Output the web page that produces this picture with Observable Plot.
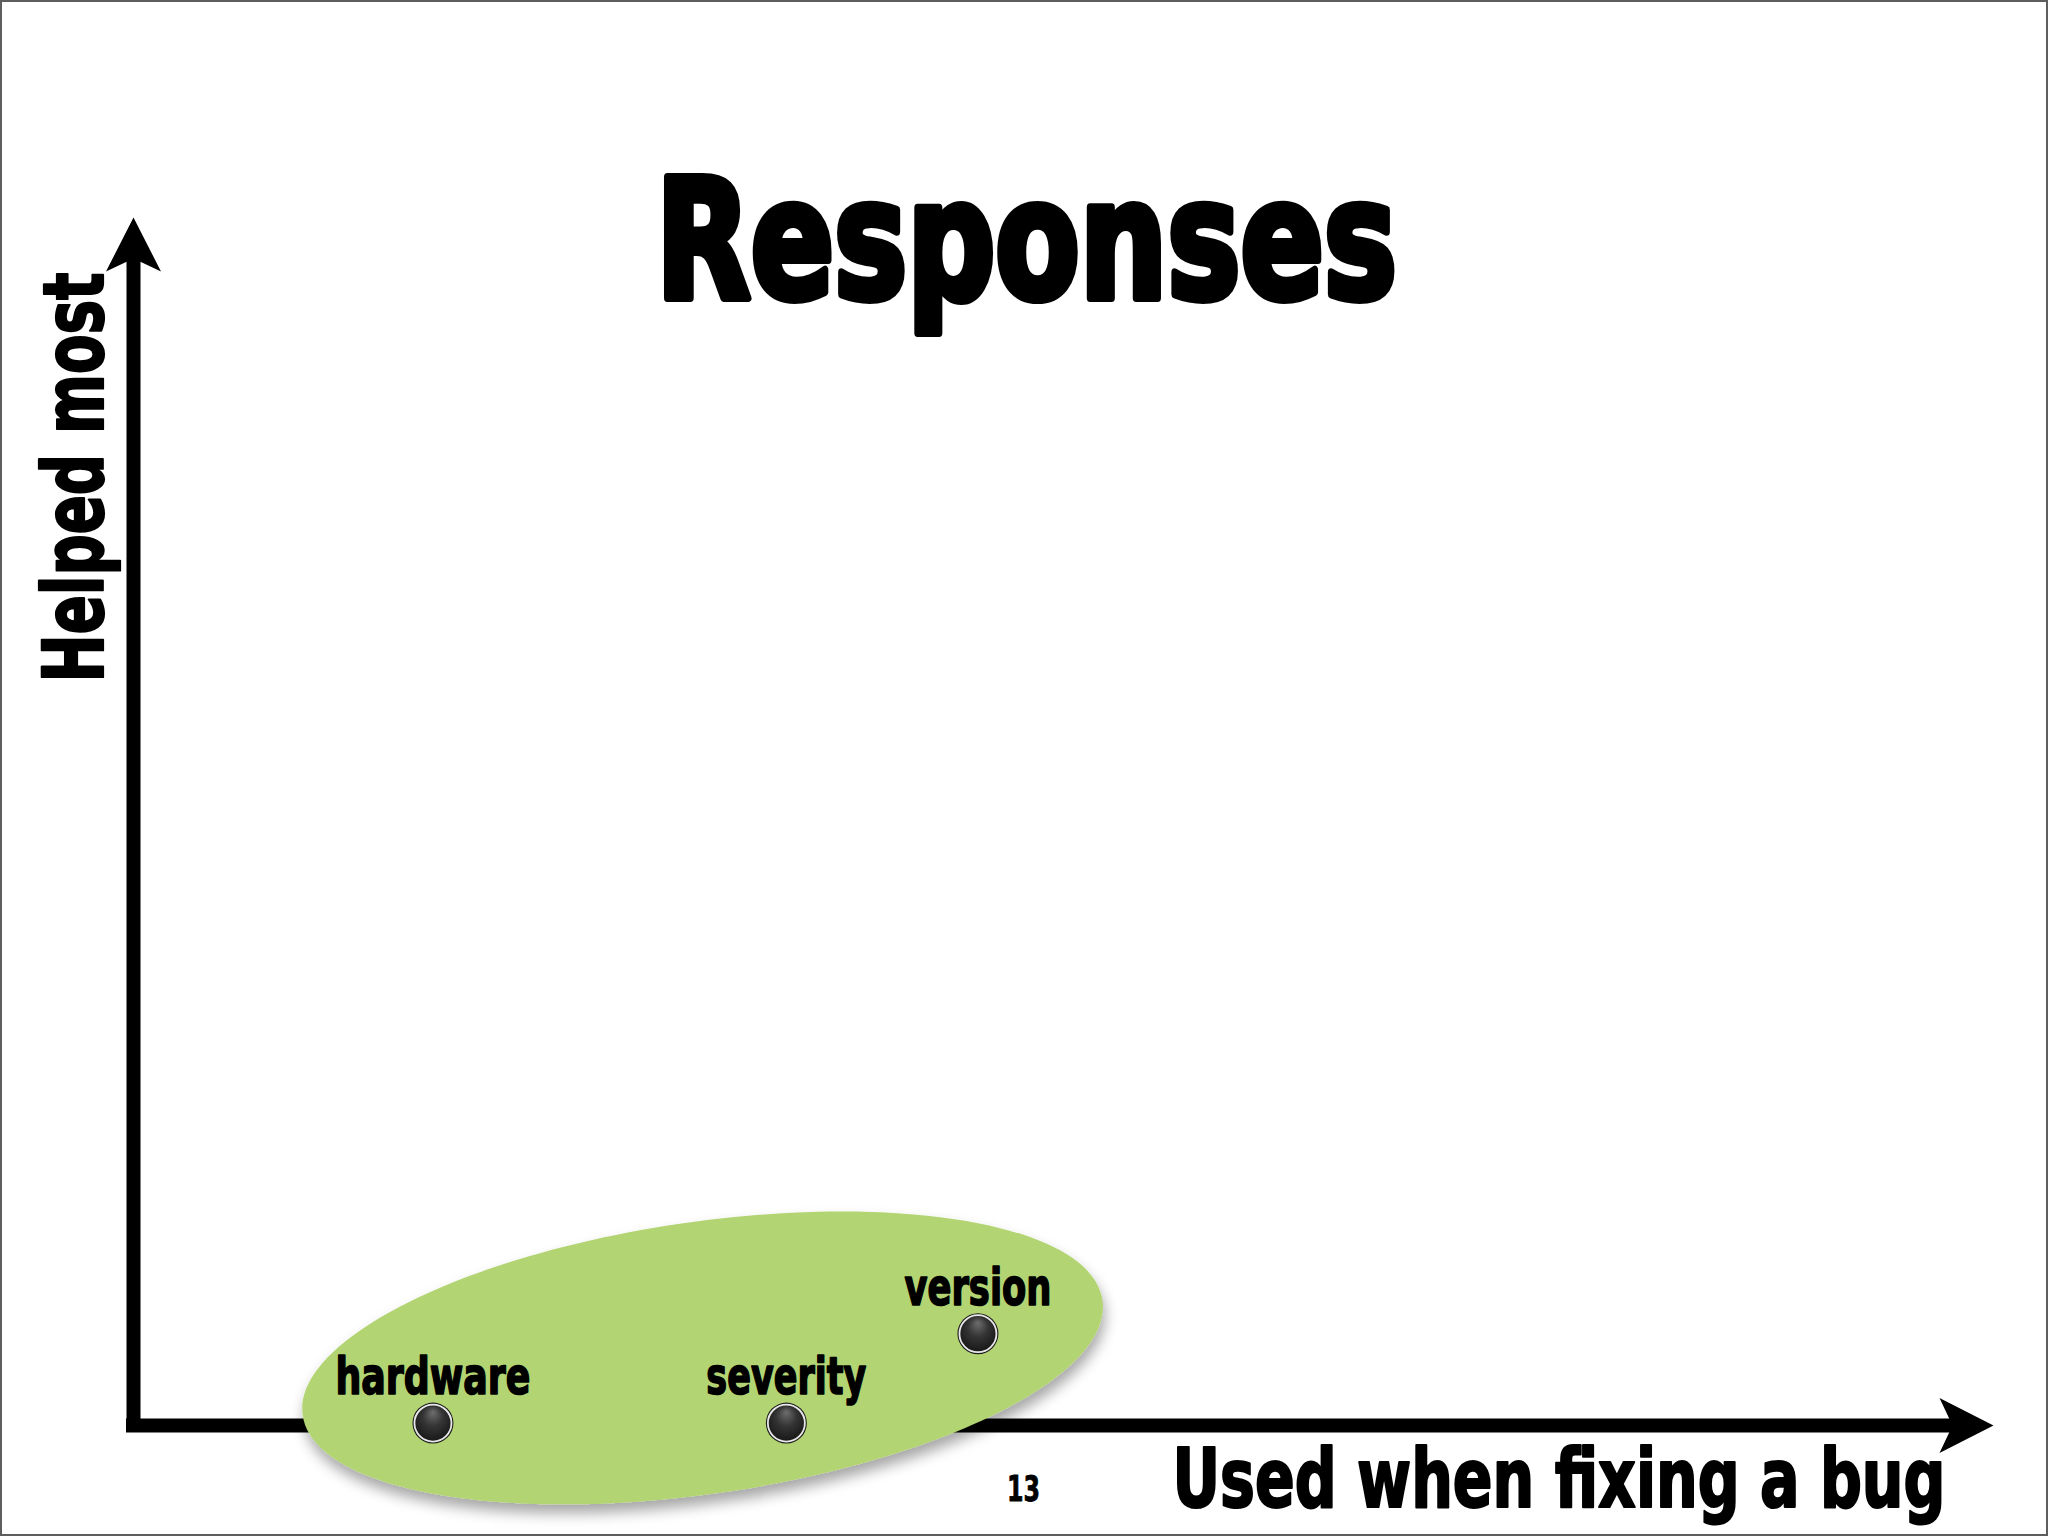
<!DOCTYPE html>
<html>
<head>
<meta charset="utf-8">
<script src="https://cdn.jsdelivr.net/npm/d3@7"></script>
<script src="https://cdn.jsdelivr.net/npm/@observablehq/plot@0.6"></script>
<style>
  html, body { margin: 0; padding: 0; background: #ffffff; }
  #chart svg { display: block; outline: 2px solid #5e5e5e; outline-offset: -2px; }
</style>
</head>
<body>
<div id="chart"></div>
<script>
// ---- data ----
const categories = ["hardware", "severity", "version"];
const usedWhenFixing = [16.1, 35.1, 45.4];   // x: "Used when fixing a bug"
const helpedMost = [0.2, 0.2, 7.6];          // y: "Helped most"
const clusterX = [30.6];                     // highlighted group (ellipse) centre
const clusterY = [5.6];
const xDomain = [0, 100];
const yDomain = [0, 100];
const chartTitle = "Responses";
const xLabel = "Used when fixing a bug";
const yLabel = "Helped most";
const pageNumber = "13";

// ---- tables built from the arrays ----
const points = categories.map((name, i) => ({name, x: usedWhenFixing[i], y: helpedMost[i]}));
const cluster = clusterX.map((x, i) => ({x, y: clusterY[i]}));
const axisTips = [
  {x: xDomain[1], y: yDomain[0], angle: 0},
  {x: xDomain[0], y: yDomain[1], angle: -90}
];

// ---- styling ----
const FONT = "'Liberation Sans Narrow', 'DejaVu Sans Condensed', 'Liberation Sans', Arial, sans-serif";
const GREEN = "#b3d472";

const ellipseSymbol = (rx, ry) => ({
  draw(ctx) {
    const k = 0.5522847498;
    ctx.moveTo(rx, 0);
    ctx.bezierCurveTo(rx, k * ry, k * rx, ry, 0, ry);
    ctx.bezierCurveTo(-k * rx, ry, -rx, k * ry, -rx, 0);
    ctx.bezierCurveTo(-rx, -k * ry, -k * rx, -ry, 0, -ry);
    ctx.bezierCurveTo(k * rx, -ry, rx, -k * ry, rx, 0);
    ctx.closePath();
  }
});

const arrowHead = {
  draw(ctx) {
    ctx.moveTo(0, 0);
    ctx.lineTo(-54, -27.5);
    ctx.lineTo(-41, 0);
    ctx.lineTo(-54, 27.5);
    ctx.closePath();
  }
};

const chart = Plot.plot({
  width: 2048,
  height: 1536,
  marginLeft: 133,
  marginRight: 55,
  marginTop: 217,
  marginBottom: 111,
  x: {domain: xDomain, axis: null},
  y: {domain: yDomain, axis: null},
  marks: [
    // axes
    Plot.ruleY([yDomain[0]], {x1: xDomain[0], x2: xDomain[1], stroke: "black", strokeWidth: 14, insetLeft: -7, insetRight: 36}),
    Plot.ruleX([xDomain[0]], {y1: yDomain[1], y2: yDomain[0], stroke: "black", strokeWidth: 14, insetTop: 36, insetBottom: -7}),
    Plot.dot(axisTips, {x: "x", y: "y", rotate: "angle", symbol: arrowHead, fill: "black", stroke: "none"}),
    // highlighted cluster (drawn over the axis, as in the slide)
    Plot.dot(cluster, {x: "x", y: "y", symbol: ellipseSymbol(404, 136), rotate: -8.2, fill: GREEN, stroke: "none"}),
    // data points
    Plot.dot(points, {x: "x", y: "y", r: 20.5, fill: "#1c1c1c", stroke: "none"}),
    Plot.dot(points, {x: "x", y: "y", r: 18.5, fill: "url(#ballGrad)", stroke: "#e8e8e8", strokeWidth: 1.8}),
    Plot.text(points, {x: "x", y: "y", text: "name", dy: -29, lineAnchor: "bottom", textAnchor: "middle",
      fontFamily: FONT, fontWeight: "bold", fontSize: 52, fill: "black", stroke: "black", strokeWidth: 1.6}),
    // titles / labels
    Plot.text([chartTitle], {frameAnchor: "top", dx: -37, dy: 80, lineAnchor: "bottom", textAnchor: "middle",
      fontFamily: FONT, fontWeight: "bold", fontSize: 166, fill: "black", stroke: "black", strokeWidth: 8}),
    Plot.text([yLabel], {frameAnchor: "left", dx: -31, dy: -344, rotate: -90, lineAnchor: "bottom", textAnchor: "middle",
      fontFamily: FONT, fontWeight: "bold", fontSize: 83, fill: "black", stroke: "black", strokeWidth: 2.2}),
    Plot.text([xLabel], {frameAnchor: "bottom-right", dx: -48, dy: 81, lineAnchor: "bottom", textAnchor: "end",
      fontFamily: FONT, fontWeight: "bold", fontSize: 82, fill: "black", stroke: "black", strokeWidth: 2.2}),
    Plot.text([pageNumber], {frameAnchor: "bottom", dx: -40, dy: 75, lineAnchor: "bottom", textAnchor: "middle",
      fontFamily: FONT, fontWeight: "bold", fontSize: 35, fill: "black", stroke: "black", strokeWidth: 0.8})
  ]
});

// defs: sphere gradient & drop shadow
const svg = d3.select(chart);
const defs = svg.insert("defs", ":first-child");
const grad = defs.append("radialGradient").attr("id", "ballGrad")
  .attr("cx", "50%").attr("cy", "45%").attr("r", "60%").attr("fx", "50%").attr("fy", "20%");
grad.append("stop").attr("offset", "0%").attr("stop-color", "#6e6e6e");
grad.append("stop").attr("offset", "45%").attr("stop-color", "#353535");
grad.append("stop").attr("offset", "100%").attr("stop-color", "#141414");
const filt = defs.append("filter").attr("id", "shadow")
  .attr("x", "-10%").attr("y", "-20%").attr("width", "120%").attr("height", "150%");
filt.append("feDropShadow").attr("dx", 2).attr("dy", 9).attr("stdDeviation", 7)
  .attr("flood-color", "#000").attr("flood-opacity", 0.35);
svg.selectAll("g").filter(function () { return this.getAttribute("fill") === GREEN; })
  .attr("filter", "url(#shadow)");

// condensed widths as in the slide
const textWidths = {"Responses": 741, "Helped most": 410, "Used when fixing a bug": 773,
  "hardware": 195, "severity": 160, "version": 147, "13": 33};
svg.selectAll("text").each(function () {
  const w = textWidths[this.textContent];
  if (w) { this.setAttribute("textLength", w); this.setAttribute("lengthAdjust", "spacingAndGlyphs"); }
});

document.getElementById("chart").appendChild(chart);
</script>
</body>
</html>
